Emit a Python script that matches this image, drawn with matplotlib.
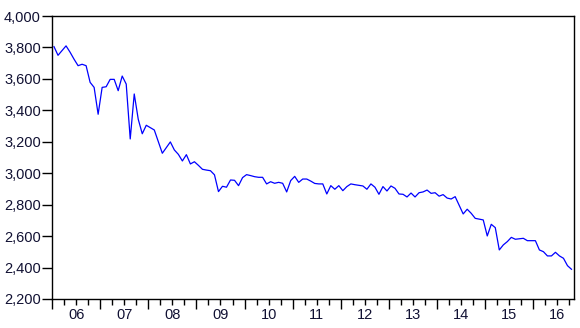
import matplotlib
matplotlib.use("Agg")
import matplotlib.pyplot as plt
import numpy as np
from matplotlib.ticker import FuncFormatter, FixedLocator

# Monthly series, 2006M01 .. 2016M10
values = [
    3805, 3750, 3780, 3810, 3770, 3725, 3684, 3693, 3684, 3578, 3546, 3375,
    3546, 3550, 3597, 3597, 3525, 3618, 3567, 3218, 3504, 3343, 3251, 3305,
    3290, 3275, 3200, 3127, 3163, 3199, 3148, 3120, 3078, 3118, 3059, 3073,
    3050, 3025, 3020, 3016, 2990, 2883, 2917, 2911, 2957, 2955, 2921, 2972,
    2991, 2985, 2978, 2974, 2974, 2932, 2946, 2936, 2942, 2936, 2881, 2953,
    2980, 2942, 2963, 2963, 2950, 2935, 2932, 2932, 2868, 2921, 2898, 2921,
    2889, 2915, 2932, 2927, 2923, 2919, 2898, 2932, 2911, 2866, 2915, 2887,
    2919, 2904, 2868, 2866, 2849, 2874, 2849, 2876, 2881, 2893, 2872, 2876,
    2854, 2864, 2842, 2836, 2851, 2796, 2741, 2771, 2745, 2713, 2708, 2703,
    2601, 2675, 2654, 2512, 2544, 2565, 2592, 2580, 2583, 2586, 2571, 2571,
    2571, 2512, 2501, 2474, 2474, 2497, 2474, 2459, 2412, 2389,
]
year_labels = ["06", "07", "08", "09", "10", "11", "12", "13", "14", "15", "16"]
y_ticks = [2200, 2400, 2600, 2800, 3000, 3200, 3400, 3600, 3800, 4000]

plt.rcParams['font.family'] = ['Liberation Sans', 'DejaVu Sans']

W, H = 580, 328
fig = plt.figure(figsize=(W / 100, H / 100), dpi=100)
ax = fig.add_axes([52 / W, 1 - 299 / H, (573.5 - 52) / W, (299 - 16) / H])

x = np.arange(len(values))
ax.plot(x, values, color='#0000ff', lw=0.9)

n = len(values)
ax.set_xlim(-0.5, n - 0.5)
ax.set_ylim(y_ticks[0], y_ticks[-1])

ax.set_yticks(y_ticks)
ax.yaxis.set_major_formatter(FuncFormatter(lambda v, p: f"{int(v):,}"))

# year boundaries (major) and quarters (minor)
ax.xaxis.set_major_locator(FixedLocator([12 * j - 0.5 for j in range(len(year_labels))]))
ax.xaxis.set_minor_locator(FixedLocator([3 * m - 0.5 for m in range(n // 3 + 1)]))
ax.set_xticklabels([])

txtcol = '#111133'
ax.tick_params(axis='x', which='major', direction='out', length=7, width=1, color='black')
ax.tick_params(axis='x', which='minor', direction='out', length=4, width=1, color='black')
ax.tick_params(axis='y', which='major', direction='out', length=7, width=1, color='black',
               labelsize=10.5, labelcolor=txtcol, pad=1)

for j, lab in enumerate(year_labels):
    ax.annotate(lab, xy=(12 * j + 5.5, 0), xycoords=('data', 'axes fraction'),
                xytext=(0, -9), textcoords='offset pixels', ha='center', va='top',
                fontsize=10.5, color=txtcol)

for s in ax.spines.values():
    s.set_linewidth(1.0)
    s.set_color('black')

fig.savefig("out.png", dpi=100)
